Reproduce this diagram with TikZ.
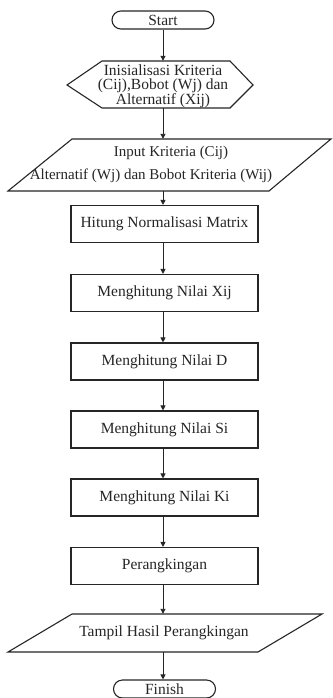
\documentclass[tikz,border=0pt]{standalone}
\usepackage{fontspec}
\setmainfont{Liberation Serif}
\usetikzlibrary{arrows.meta,shapes.misc}
\tikzset{
  line/.style={draw=black!85, line width=1.1pt},
  txt/.style={font=\fontsize{15.5}{14.3}\selectfont, inner sep=0pt, align=center, text=black!85},
  procbox/.style={line, rectangle, minimum width=187pt, minimum height=37pt, inner sep=0pt, font=\fontsize{15.5}{16}\selectfont, text=black!85},
  term/.style={line, rounded rectangle, minimum width=102pt, minimum height=18pt, inner sep=0pt, font=\fontsize{15.5}{16}\selectfont, text=black!85},
  ghost/.style={rectangle, inner sep=0pt, minimum width=10pt},
  arr/.style={draw=black!85, line width=0.9pt, -{Triangle[length=5pt,width=5pt]}}
}
\begin{document}
\begin{tikzpicture}[x=1pt,y=-1pt]
\useasboundingbox[fill=white] (0,0) rectangle (332,698);
% Start
\node[term] (start) at (163,20) {Start};
% Hexagon
\draw[line] (102,61) -- (230,61) -- (253,85) -- (230,108) -- (102,108) -- (67,85) -- cycle;
\node[ghost, minimum height=47pt] (hex) at (163,84.5) {};
\node[txt] (hextxt) at (163,86) {Inisialisasi Kriteria\\(Cij),Bobot (Wj) dan\\Alternatif (Xij)};
% Input parallelogram
\draw[line] (72,139) -- (331,139) -- (269,191) -- (8,191) -- cycle;
\node[ghost, minimum height=52pt] (inp) at (163,165) {};
\node[txt, font=\fontsize{15}{16}\selectfont] (inp1) at (171,153) {Input Kriteria (Cij)};
\node[txt, font=\fontsize{15}{16}\selectfont] (inp2) at (151,176) {Alternatif (Wj) dan Bobot Kriteria (Wij)};
% process boxes
\node[procbox] (p1) at (164.5,224) {Hitung Normalisasi Matrix};
\node[procbox] (p2) at (164.5,293) {Menghitung Nilai Xij};
\node[procbox] (p3) at (164.5,361.5) {Menghitung Nilai D};
\node[procbox] (p4) at (164.5,429.5) {Menghitung Nilai Si};
\node[procbox] (p5) at (164.5,497.5) {Menghitung Nilai Ki};
\node[procbox] (p6) at (164.5,566) {Perangkingan};
% Output parallelogram
\draw[line] (72,614) -- (322,614) -- (258,652) -- (8,652) -- cycle;
\node[ghost, minimum height=38pt] (out) at (163,633) {};
\node[txt] (outtxt) at (164,633) {Tampil Hasil Perangkingan};
% Finish
\node[term] (finish) at (164.5,689) {Finish};
% connectors
\draw[arr] (start.south) -- (start.south |- hex.north);
\draw[arr] (hex.south) -- (hex.south |- inp.north);
\draw[arr] (inp.south) -- (inp.south |- p1.north);
\draw[arr] (p1.south -| inp.south) -- (inp.south |- p2.north);
\draw[arr] (p2.south -| inp.south) -- (inp.south |- p3.north);
\draw[arr] (p3.south -| inp.south) -- (inp.south |- p4.north);
\draw[arr] (p4.south -| inp.south) -- (inp.south |- p5.north);
\draw[arr] (p5.south -| inp.south) -- (inp.south |- p6.north);
\draw[arr] (p6.south -| inp.south) -- (inp.south |- out.north);
\draw[arr] (out.south) -- (out.south |- finish.north);
\end{tikzpicture}
\end{document}
